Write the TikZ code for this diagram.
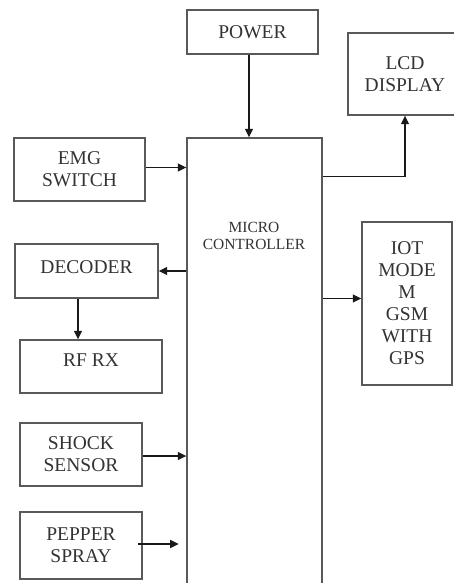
\documentclass[tikz,border=0pt]{standalone}
\usepackage{fontspec}
\setmainfont{Liberation Serif}
\usetikzlibrary{arrows.meta,calc}
\begin{document}
\begin{tikzpicture}[x=1pt,y=-1pt,
  blk/.style={draw=black!65,line width=1.4pt,rectangle,inner sep=0pt,align=center,
    font=\fontsize{19.5}{22}\selectfont,text=black!80},
  arr/.style={draw=black!90,line width=1.1pt,-{Triangle[length=8.5pt,width=8pt]}}]
\useasboundingbox (0,0) rectangle (453,583);
\fill[white] (0,0) rectangle (453,583);
\node[blk,minimum width=131pt,minimum height=44pt] (power) at (252.5,32) {POWER};
\node[blk,minimum width=114pt,minimum height=82pt] (lcd) at (405,74) {LCD\\DISPLAY};
\node[blk,minimum width=131pt,minimum height=63pt] (emg) at (79.5,169.5) {EMG\\SWITCH};
\node[blk,minimum width=135pt,minimum height=460pt] (micro) at (254.5,368) {};
\node[font=\fontsize{15.5}{17}\selectfont,text=black!80,align=center] (microtxt) at (254,236) {MICRO\\CONTROLLER};
\node[blk,minimum width=143pt,minimum height=54pt,text depth=8pt] (decoder) at (86.5,271) {DECODER};
\node[blk,minimum width=142pt,minimum height=53pt,text depth=12pt] (rfrx) at (91,366.5) {RF RX};
\node[blk,minimum width=90pt,minimum height=163pt] (iot) at (407,303.5) {IOT\\MODE\\M\\GSM\\WITH\\GPS};
\node[blk,minimum width=122pt,minimum height=63pt] (shock) at (81,454.5) {SHOCK\\SENSOR};
\node[blk,minimum width=122pt,minimum height=67pt] (pepper) at (81,545.5) {PEPPER\\SPRAY};
\draw[arr] ([xshift=-3.5pt]power.south) -- ([xshift=-3.5pt]power.south |- micro.north);
\draw[arr] ([yshift=2pt]emg.east) -- ([yshift=2pt]emg.east -| micro.west);
\draw[arr] ($(micro.north east)+(0,39)$) -| (lcd.south);
\draw[arr] (micro.west |- decoder.east) -- (decoder.east);
\draw[arr] ([xshift=-8.5pt]decoder.south) -- ([xshift=-8.5pt]decoder.south |- rfrx.north);
\draw[arr] ([yshift=5pt]micro.east |- iot.west) -- ([yshift=5pt]iot.west);
\draw[arr] ([yshift=-1.5pt]shock.east) -- ([yshift=-1.5pt]shock.east -| micro.west);
\draw[arr] ([xshift=-5pt,yshift=1.5pt]pepper.east) -- ([xshift=36pt,yshift=1.5pt]pepper.east);
\end{tikzpicture}
\end{document}
